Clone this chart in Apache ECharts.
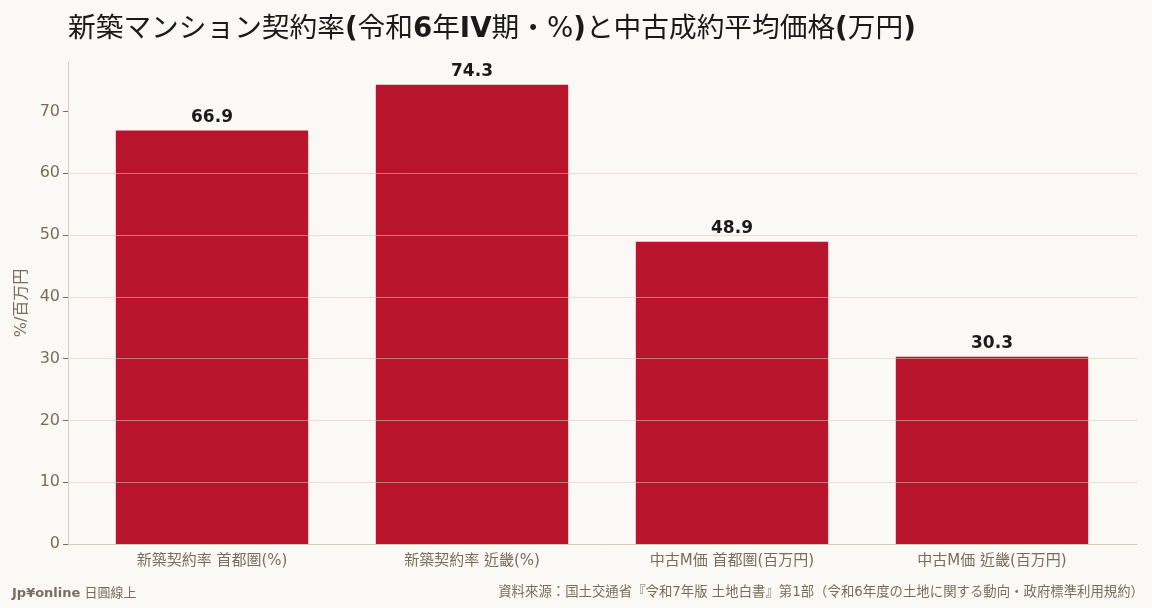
<!DOCTYPE html>
<html>
<head>
<meta charset="utf-8">
<style>
  html, body { margin: 0; padding: 0; background: #faf9f5; }
  #chart { width: 1152px; height: 608px; }
</style>
<script src="https://cdn.jsdelivr.net/npm/echarts@6/dist/echarts.min.js"></script>
</head>
<body>
<div id="chart"></div>
<script>
// 区分と値
var categories = ['新築契約率 首都圏(%)', '新築契約率 近畿(%)', '中古M価 首都圏(百万円)', '中古M価 近畿(百万円)'];
var values = [66.9, 74.3, 48.9, 30.3];
var yTicks = [0, 10, 20, 30, 40, 50, 60, 70];
var yMax = 78;

var sourceText = '資料來源：国土交通省『令和7年版 土地白書』第1部（令和6年度の土地に関する動向・政府標準利用規約）';

var _font = 'DejaVu Sans, "Noto Sans CJK TC", sans-serif';
var _titleFont = 'DejaVu Sans, "Noto Sans CJK JP", sans-serif';
var _muted = '#7a6e5a';
var _line = '#d6ccb8';

var chart = echarts.init(document.getElementById('chart'));

chart.setOption({
	backgroundColor: '#faf9f5',
	textStyle: { fontFamily: _font },
	title: {
		// ラテン文字だけ太字
		text: '新築マンション契約率{b|(}令和{b|6}年{b|IV}期・%{b|)}と中古成約平均価格{b|(}万円{b|)}',
		left: 63,
		top: 11,
		textStyle: {
			fontFamily: _titleFont,
			fontSize: 27.7,
			fontWeight: 'normal',
			color: '#1a1a1a',
			rich: {
				b: { fontFamily: _titleFont, fontSize: 27.7, fontWeight: 'bold', color: '#1a1a1a' }
			}
		}
	},
	grid: [
		{ left: 68, right: 15, top: 62, bottom: 64 },
		{ left: 82, right: 30, top: 62, bottom: 64 }
	],
	xAxis: [
		{
			type: 'category',
			gridIndex: 0,
			data: categories,
			axisLine: { lineStyle: { color: _line, width: 1 } },
			axisTick: { show: false },
			axisLabel: { show: false }
		},
		{
			type: 'category',
			gridIndex: 1,
			data: categories,
			axisLine: { show: false },
			axisTick: { alignWithLabel: true, length: 5, lineStyle: { color: _muted } },
			axisLabel: { color: _muted, fontSize: 15, margin: 10 }
		}
	],
	yAxis: [
		{
			type: 'value',
			gridIndex: 0,
			min: 0,
			max: yMax,
			interval: 10,
			z: 5,
			name: '%/百万円',
			nameLocation: 'middle',
			nameGap: 38,
			nameMoveOverlap: false,
			nameTextStyle: { color: _muted, fontSize: 16 },
			axisLine: { show: true, lineStyle: { color: _line } },
			axisTick: { show: true, length: 5, customValues: yTicks, lineStyle: { color: _muted } },
			axisLabel: { color: _muted, fontSize: 16, margin: 8, customValues: yTicks },
			splitLine: {
				showMaxLine: false,
				lineStyle: { color: 'rgba(214,204,184,0.55)', width: 1 }
			}
		},
		{
			type: 'value',
			gridIndex: 1,
			min: 0,
			max: yMax,
			show: false,
			splitLine: { show: false }
		}
	],
	series: [{
		type: 'bar',
		xAxisIndex: 1,
		yAxisIndex: 1,
		data: values,
		barWidth: '74%',
		itemStyle: { color: '#b8152d' },
		label: {
			show: true,
			position: 'top',
			distance: 5,
			color: '#1a1a1a',
			fontSize: 17,
			fontWeight: 'bold',
			formatter: function(p) { return p.value.toFixed(1); }
		}
	}],
	graphic: [
		{
			type: 'text',
			left: 12,
			top: 587,
			style: {
				text: '{b|Jp¥online} 日圓線上',
				rich: { b: { fontWeight: 'bold', fontSize: 13, fill: _muted, fontFamily: _font } },
				fontSize: 13,
				fill: _muted,
				fontFamily: _font
			}
		},
		{
			type: 'text',
			right: 8,
			top: 586,
			style: {
				text: sourceText,
				fontSize: 13.4,
				fill: _muted,
				fontFamily: _font
			}
		}
	]
});
</script>
</body>
</html>
